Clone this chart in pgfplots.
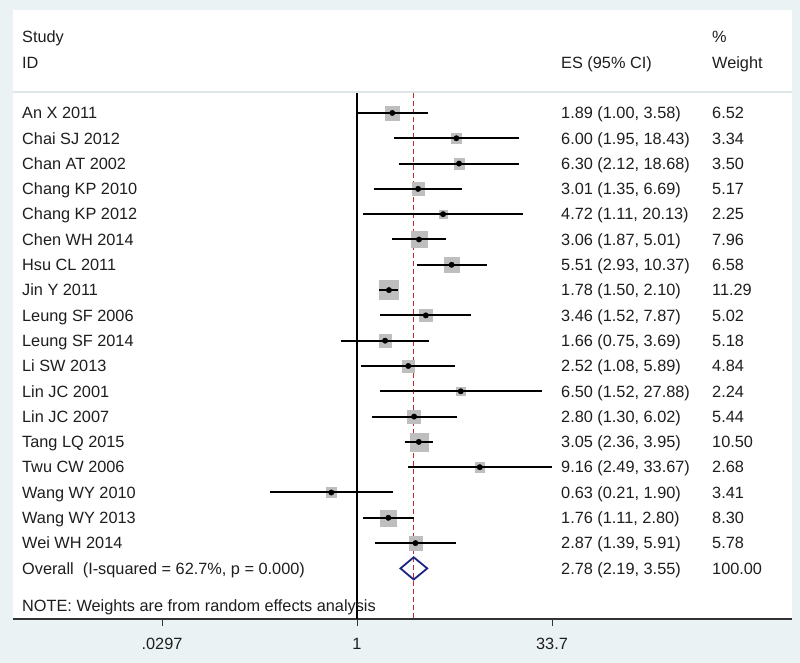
\documentclass[border=0pt]{standalone}
\usepackage{fontspec}
\setmainfont{Liberation Sans}
\usepackage{pgfplots}
\pgfplotsset{compat=1.18}
\usepackage{pgfplotstable}
\definecolor{bgc}{RGB}{234,242,243}
\definecolor{sepc}{RGB}{222,230,232}
\definecolor{boxc}{RGB}{190,190,190}
\definecolor{refred}{RGB}{200,40,50}
\definecolor{navy}{RGB}{28,38,128}
\definecolor{txt}{RGB}{30,30,30}
\newcommand\fs{\fontsize{16.3}{19}\selectfont}
\tikzset{txtn/.style={anchor=base west, yshift=-5.8pt, inner sep=0pt, font=\fs, text=txt}}

\pgfplotstableread{
row es lo hi w
1 1.89 1.00 3.58 6.52
2 6.00 1.95 18.43 3.34
3 6.30 2.12 18.68 3.50
4 3.01 1.35 6.69 5.17
5 4.72 1.11 20.13 2.25
6 3.06 1.87 5.01 7.96
7 5.51 2.93 10.37 6.58
8 1.78 1.50 2.10 11.29
9 3.46 1.52 7.87 5.02
10 1.66 0.75 3.69 5.18
11 2.52 1.08 5.89 4.84
12 6.50 1.52 27.88 2.24
13 2.80 1.30 6.02 5.44
14 3.05 2.36 3.95 10.50
15 9.16 2.49 33.67 2.68
16 0.63 0.21 1.90 3.41
17 1.76 1.11 2.80 8.30
18 2.87 1.39 5.91 5.78
}\studies

\begin{document}
\begin{tikzpicture}[x=1pt,y=1pt]
\fill[bgc] (0,0) rectangle (800,663);
\begin{axis}[
  at={(13pt,44pt)}, anchor=south west,
  scale only axis, width=779pt, height=609pt,
  xmode=log, xmin=0.002020, xmax=2555,
  ymin=-3.07, ymax=21.0, y dir=reverse,
  axis background/.style={fill=white},
  axis x line*=bottom, axis y line=none,
  x axis line style={draw=black!80, line width=1.3pt},
  xtick={0.0297,1,33.7}, xticklabels={.0297,1,33.7},
  xtick align=outside, major tick length=7pt,
  minor x tick num=0,
  tick style={black!80, line width=1pt},
  ytick=\empty,
  /pgf/number format/assume math mode=true,
  xticklabel style={font=\fs, text=txt, yshift=-9pt},
  clip=false, clip marker paths=true,
]
\draw[sepc, line width=1.6pt] (axis cs:0.002020,0.17) -- (axis cs:2555,0.17);
\addplot[black, line width=1.2pt] coordinates {(1,0.21) (1,21)};
\addplot[color=refred, line width=1.2pt, dash pattern=on 5pt off 3pt] coordinates {(2.78,0.21) (2.78,21)};
\addplot[boxc, scatter, only marks, mark=square*,
  mark options={draw=boxc, fill=boxc},
  scatter/use mapped color={draw=boxc, fill=boxc},
  visualization depends on={2.8*sqrt(\thisrow{w}) \as \msz},
  scatter/@pre marker code/.append style={/tikz/mark size=\msz pt}]
  table[x=es, y=row] {\studies};
\addplot[black, line width=2pt, unbounded coords=jump] coordinates {
 (1.00,1) (3.58,1) (nan,nan)
 (1.95,2) (18.43,2) (nan,nan)
 (2.12,3) (18.68,3) (nan,nan)
 (1.35,4) (6.69,4) (nan,nan)
 (1.11,5) (20.13,5) (nan,nan)
 (1.87,6) (5.01,6) (nan,nan)
 (2.93,7) (10.37,7) (nan,nan)
 (1.50,8) (2.10,8) (nan,nan)
 (1.52,9) (7.87,9) (nan,nan)
 (0.75,10) (3.69,10) (nan,nan)
 (1.08,11) (5.89,11) (nan,nan)
 (1.52,12) (27.88,12) (nan,nan)
 (1.30,13) (6.02,13) (nan,nan)
 (2.36,14) (3.95,14) (nan,nan)
 (2.49,15) (33.67,15) (nan,nan)
 (0.21,16) (1.90,16) (nan,nan)
 (1.11,17) (2.80,17) (nan,nan)
 (1.39,18) (5.91,18)
};
\addplot[only marks, mark=*, mark size=2.7pt, black] table[x=es, y=row] {\studies};
\addplot[navy, line width=1.8pt, line join=miter] coordinates {(2.19,19) (2.78,18.56) (3.55,19) (2.78,19.44)} -- cycle;

% header
\node[txtn] at (axis cs:0.002375,-2) {Study};
\node[txtn] at (axis cs:0.002375,-1) {ID};
\node[txtn] at (axis cs:39.64,-1) {ES (95\% CI)};
\node[txtn] at (axis cs:603.6,-2) {\%};
\node[txtn] at (axis cs:603.6,-1) {Weight};
% names
\node[txtn] at (axis cs:0.002375,1) {An X 2011};
\node[txtn] at (axis cs:0.002375,2) {Chai SJ 2012};
\node[txtn] at (axis cs:0.002375,3) {Chan AT 2002};
\node[txtn] at (axis cs:0.002375,4) {Chang KP 2010};
\node[txtn] at (axis cs:0.002375,5) {Chang KP 2012};
\node[txtn] at (axis cs:0.002375,6) {Chen WH 2014};
\node[txtn] at (axis cs:0.002375,7) {Hsu CL 2011};
\node[txtn] at (axis cs:0.002375,8) {Jin Y 2011};
\node[txtn] at (axis cs:0.002375,9) {Leung SF 2006};
\node[txtn] at (axis cs:0.002375,10) {Leung SF 2014};
\node[txtn] at (axis cs:0.002375,11) {Li SW 2013};
\node[txtn] at (axis cs:0.002375,12) {Lin JC 2001};
\node[txtn] at (axis cs:0.002375,13) {Lin JC 2007};
\node[txtn] at (axis cs:0.002375,14) {Tang LQ 2015};
\node[txtn] at (axis cs:0.002375,15) {Twu CW 2006};
\node[txtn] at (axis cs:0.002375,16) {Wang WY 2010};
\node[txtn] at (axis cs:0.002375,17) {Wang WY 2013};
\node[txtn] at (axis cs:0.002375,18) {Wei WH 2014};
\node[txtn] at (axis cs:0.002375,19) {Overall\ \ (I-squared = 62.7\%, p = 0.000)};
\node[txtn] at (axis cs:0.002375,20.49) {NOTE: Weights are from random effects analysis};
% ES column
\node[txtn] at (axis cs:39.64,1) {1.89 (1.00, 3.58)};
\node[txtn] at (axis cs:39.64,2) {6.00 (1.95, 18.43)};
\node[txtn] at (axis cs:39.64,3) {6.30 (2.12, 18.68)};
\node[txtn] at (axis cs:39.64,4) {3.01 (1.35, 6.69)};
\node[txtn] at (axis cs:39.64,5) {4.72 (1.11, 20.13)};
\node[txtn] at (axis cs:39.64,6) {3.06 (1.87, 5.01)};
\node[txtn] at (axis cs:39.64,7) {5.51 (2.93, 10.37)};
\node[txtn] at (axis cs:39.64,8) {1.78 (1.50, 2.10)};
\node[txtn] at (axis cs:39.64,9) {3.46 (1.52, 7.87)};
\node[txtn] at (axis cs:39.64,10) {1.66 (0.75, 3.69)};
\node[txtn] at (axis cs:39.64,11) {2.52 (1.08, 5.89)};
\node[txtn] at (axis cs:39.64,12) {6.50 (1.52, 27.88)};
\node[txtn] at (axis cs:39.64,13) {2.80 (1.30, 6.02)};
\node[txtn] at (axis cs:39.64,14) {3.05 (2.36, 3.95)};
\node[txtn] at (axis cs:39.64,15) {9.16 (2.49, 33.67)};
\node[txtn] at (axis cs:39.64,16) {0.63 (0.21, 1.90)};
\node[txtn] at (axis cs:39.64,17) {1.76 (1.11, 2.80)};
\node[txtn] at (axis cs:39.64,18) {2.87 (1.39, 5.91)};
\node[txtn] at (axis cs:39.64,19) {2.78 (2.19, 3.55)};
% weight column
\node[txtn] at (axis cs:603.6,1) {6.52};
\node[txtn] at (axis cs:603.6,2) {3.34};
\node[txtn] at (axis cs:603.6,3) {3.50};
\node[txtn] at (axis cs:603.6,4) {5.17};
\node[txtn] at (axis cs:603.6,5) {2.25};
\node[txtn] at (axis cs:603.6,6) {7.96};
\node[txtn] at (axis cs:603.6,7) {6.58};
\node[txtn] at (axis cs:603.6,8) {11.29};
\node[txtn] at (axis cs:603.6,9) {5.02};
\node[txtn] at (axis cs:603.6,10) {5.18};
\node[txtn] at (axis cs:603.6,11) {4.84};
\node[txtn] at (axis cs:603.6,12) {2.24};
\node[txtn] at (axis cs:603.6,13) {5.44};
\node[txtn] at (axis cs:603.6,14) {10.50};
\node[txtn] at (axis cs:603.6,15) {2.68};
\node[txtn] at (axis cs:603.6,16) {3.41};
\node[txtn] at (axis cs:603.6,17) {8.30};
\node[txtn] at (axis cs:603.6,18) {5.78};
\node[txtn] at (axis cs:603.6,19) {100.00};
\end{axis}
\end{tikzpicture}
\end{document}
